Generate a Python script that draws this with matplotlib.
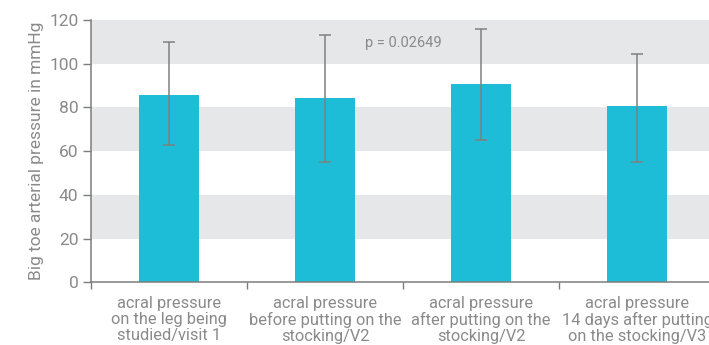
import matplotlib.pyplot as plt
import numpy as np

categories = [
    'acral pressure\non the leg being\nstudied/visit 1',
    'acral pressure\nbefore putting on the\nstocking/V2',
    'acral pressure\nafter putting on the\nstocking/V2',
    'acral pressure\n14 days after putting\non the stocking/V3',
]
mean_pressure = [85.8, 84.4, 90.8, 80.8]
err_low = [23.2, 29.3, 25.8, 25.7]
err_high = [24.1, 28.6, 24.9, 23.6]
p_label = 'p = 0.02649'

TEXT = '#8a8a8a'
plt.rcParams['font.family'] = ['Roboto', 'DejaVu Sans']

fig = plt.figure(figsize=(7.09, 3.45), dpi=100)
ax = fig.add_axes([0.1283, 0.1817, 0.8802, 0.7603])

# grey horizontal bands behind the bars
for lo in (20, 60, 100):
    ax.axhspan(lo, lo + 20, color='#e6e7e8', zorder=0, lw=0)

x = np.arange(len(categories))
ax.bar(x, mean_pressure, width=0.38, color='#1dbdd7', zorder=2)
ax.errorbar(x, mean_pressure, yerr=[err_low, err_high], fmt='none',
            ecolor='#808080', elinewidth=1.1, capsize=4, capthick=1.1, zorder=3)

ax.text(1.5, 109.5, p_label, ha='center', va='center', fontsize=10.5, color=TEXT)

ax.set_xlim(-0.5, 3.5)
ax.set_ylim(0, 120)
ax.set_yticks(range(0, 121, 20))
ax.set_xticks([-0.5, 0.5, 1.5, 2.5, 3.5])
ax.set_xticklabels([])
ax.set_xticks(x, minor=True)
ax.set_xticklabels(categories, minor=True, fontsize=11.8, color=TEXT, linespacing=1.08)
ax.tick_params(axis='x', which='minor', length=0, pad=10)
ax.tick_params(axis='x', which='major', length=5, color='#7d7d7d', width=1)
ax.tick_params(axis='y', length=6, color='#7d7d7d', width=1, labelsize=12.5,
               labelcolor=TEXT, pad=3)
ax.set_ylabel('Big toe arterial pressure in mmHg', fontsize=12.5, color=TEXT, labelpad=4)

for side in ('top', 'right'):
    ax.spines[side].set_visible(False)
for side in ('left', 'bottom'):
    ax.spines[side].set_color('#7d7d7d')
    ax.spines[side].set_linewidth(1.1)

fig.savefig('out.png', dpi=100)
